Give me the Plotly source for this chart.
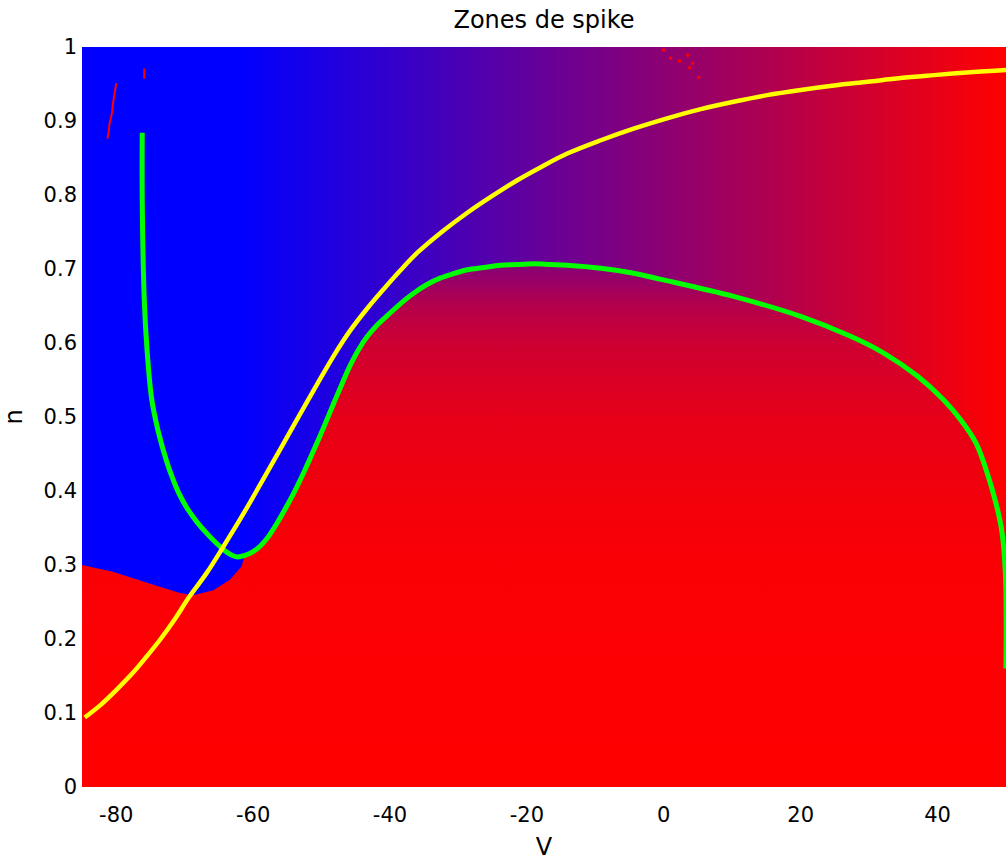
import plotly.graph_objects as go

# ---------------- data ----------------
# background colour level (0 = blue, 1 = red) across V in the upper region
BG_V = [-85, -62, -40, -20, 0, 20, 50]
BG_LEVEL = [0.0, 0.0, 0.2, 0.38, 0.55, 0.73, 1.0]

# n-nullcline (yellow)
YEL_V = [-84.6, -82.4, -80.0, -77.5, -75.5, -73.6, -71.5, -69.4, -66.8, -64.4,
         -61.5, -58.7, -56.0, -53.2, -50.6, -48.2, -45.8, -43.3, -41.0, -38.5,
         -36.0, -32.3, -28.7, -25.0, -21.4, -17.7, -14.1, -9.2, -4.3, 0.6,
         5.4, 10.2, 15.1, 20.0, 24.9, 29.8, 34.6, 39.5, 44.8, 50.0]
YEL_N = [0.094, 0.110, 0.131, 0.155, 0.177, 0.199, 0.226, 0.256, 0.289, 0.324,
         0.368, 0.413, 0.457, 0.503, 0.545, 0.583, 0.617, 0.647, 0.672, 0.698,
         0.722, 0.751, 0.776, 0.799, 0.820, 0.839, 0.856, 0.874, 0.890, 0.904,
         0.916, 0.926, 0.935, 0.942, 0.948, 0.953, 0.958, 0.962, 0.966, 0.969]

# V-nullcline (green)
GRN_V = [-76.2, -76.2, -75.9, -75.5, -74.8, -73.9, -72.7, -71.8, -70.8, -69.6,
         -68.2, -66.7, -65.2, -63.8, -62.4, -61.2, -60.0, -58.9, -57.8, -56.6,
         -55.3, -53.8, -52.4, -51.0, -49.6, -48.3, -47.0, -45.8, -44.6, -43.3,
         -41.9, -40.4, -38.5, -36.6, -34.6, -32.6, -30.6, -28.7, -26.3, -23.9,
         -21.4, -19.0, -16.5, -14.1, -9.2, -4.8, -0.4, 10.2, 20.0, 27.3,
         32.2, 37.1, 40.9, 43.4, 45.6, 47.4, 49.3, 49.9, 50.0]
GRN_N = [0.884, 0.793, 0.658, 0.591, 0.523, 0.482, 0.442, 0.418, 0.396, 0.376,
         0.358, 0.342, 0.328, 0.317, 0.311, 0.313, 0.318, 0.326, 0.338, 0.355,
         0.376, 0.402, 0.429, 0.458, 0.488, 0.517, 0.545, 0.570, 0.591, 0.609,
         0.624, 0.637, 0.653, 0.667, 0.679, 0.688, 0.694, 0.699, 0.702, 0.705,
         0.706, 0.707, 0.706, 0.705, 0.701, 0.695, 0.686, 0.663, 0.636, 0.609,
         0.586, 0.555, 0.523, 0.496, 0.465, 0.420, 0.351, 0.290, 0.160]

# lower-left edge of the spike zone (before it joins the green curve)
EDGE_V = [-85.0, -80.5, -75.5, -70.7, -68.8, -65.8, -63.4, -61.7]
EDGE_N = [0.300, 0.291, 0.276, 0.262, 0.259, 0.266, 0.280, 0.298]

# stray red points near the top
SPECK1_V = [-81.3, -81.1, -81.0, -80.8, -80.6, -80.5, -80.3, -80.1, -80.0]
SPECK1_N = [0.876, 0.885, 0.895, 0.903, 0.912, 0.922, 0.932, 0.942, 0.951]
SPECK2_V = [-75.9, -75.9]
SPECK2_N = [0.957, 0.971]
SPECK3_V = [0.0, 1.0, 2.3, 3.5, 3.8, 4.2, 5.1]
SPECK3_N = [0.996, 0.985, 0.981, 0.989, 0.972, 0.978, 0.959]

X_TICKS = [-80, -60, -40, -20, 0, 20, 40]
X_TICKTEXT = ["-80", "-60", "-40", "-20", "0", "20", "40"]
Y_TICKS = [0, 0.1, 0.2, 0.3, 0.4, 0.5, 0.6, 0.7, 0.8, 0.9, 1]
Y_TICKTEXT = ["0", "0.1", "0.2", "0.3", "0.4", "0.5", "0.6", "0.7", "0.8", "0.9", "1"]

# ---------------- figure ----------------
FONT = "DejaVu Sans, Verdana, sans-serif"
fig = go.Figure()

fig.add_trace(go.Heatmap(
    x=BG_V, y=[0, 1], z=[BG_LEVEL, BG_LEVEL],
    zsmooth="best", zmin=0, zmax=1, showscale=False,
    colorscale=[[0, "rgb(0,0,255)"], [1, "rgb(255,0,0)"]],
    hoverinfo="skip"))

# spike zone polygon: lower-left edge, then along the green curve, then down the right side
i0 = GRN_V.index(-61.2)
poly_v = EDGE_V + GRN_V[i0:] + [50.0, -85.0]
poly_n = EDGE_N + GRN_N[i0:] + [0.0, 0.0]
top = 0.72
stops = [(0.0, "rgb(255,0,0)"), (0.30, "rgb(250,0,5)"), (0.40, "rgb(242,0,12)"),
         (0.50, "rgb(230,0,25)"), (0.60, "rgb(205,0,50)"), (0.65, "rgb(180,0,75)"),
         (0.70, "rgb(140,0,115)"), (0.72, "rgb(125,0,130)")]
fig.add_trace(go.Scatter(
    x=poly_v, y=poly_n, mode="lines", line=dict(width=0), fill="toself",
    fillgradient=dict(type="vertical", start=0, stop=top,
                      colorscale=[[n / top, c] for n, c in stops]),
    hoverinfo="skip", showlegend=False))

for sv, sn in [(SPECK1_V, SPECK1_N), (SPECK2_V, SPECK2_N)]:
    fig.add_trace(go.Scatter(x=sv, y=sn, mode="lines",
                             line=dict(color="rgb(255,0,0)", width=2),
                             showlegend=False, hoverinfo="skip"))
fig.add_trace(go.Scatter(x=SPECK3_V, y=SPECK3_N, mode="markers",
                         marker=dict(color="rgb(255,0,0)", size=3, symbol="square"),
                         showlegend=False, hoverinfo="skip"))

fig.add_trace(go.Scatter(x=GRN_V, y=GRN_N, mode="lines",
                         line=dict(color="rgb(0,255,0)", width=5, shape="spline", smoothing=1.0),
                         showlegend=False))
fig.add_trace(go.Scatter(x=YEL_V, y=YEL_N, mode="lines",
                         line=dict(color="rgb(255,255,0)", width=4.5, shape="spline", smoothing=1.0),
                         showlegend=False))

fig.update_layout(
    width=1006, height=861,
    margin=dict(l=82, r=0, t=47, b=74),
    paper_bgcolor="white", plot_bgcolor="white",
    font=dict(family=FONT, size=21, color="black"),
    showlegend=False,
    hovermode=False,
    title=dict(text="Zones de spike", x=0.5, xref="paper", xanchor="center",
               y=1 - 20 / 861, yref="container", yanchor="middle",
               font=dict(size=24, color="black")),
    xaxis=dict(range=[-85, 50], tickvals=X_TICKS, ticktext=X_TICKTEXT, ticks="",
               showgrid=False, zeroline=False, showline=False, automargin=False,
               ticklabelstandoff=13, tickfont=dict(size=21),
               title=dict(text="V", standoff=13, font=dict(size=24))),
    yaxis=dict(range=[0, 1], tickvals=Y_TICKS, ticktext=Y_TICKTEXT, ticks="",
               showgrid=False, zeroline=False, showline=False, automargin=False,
               ticklabelstandoff=4, tickfont=dict(size=21),
               title=dict(text="n", standoff=18, font=dict(size=24))),
)

fig.write_html("out.html", config={"displayModeBar": False},
               post_script="document.body.style.margin='0px';")
